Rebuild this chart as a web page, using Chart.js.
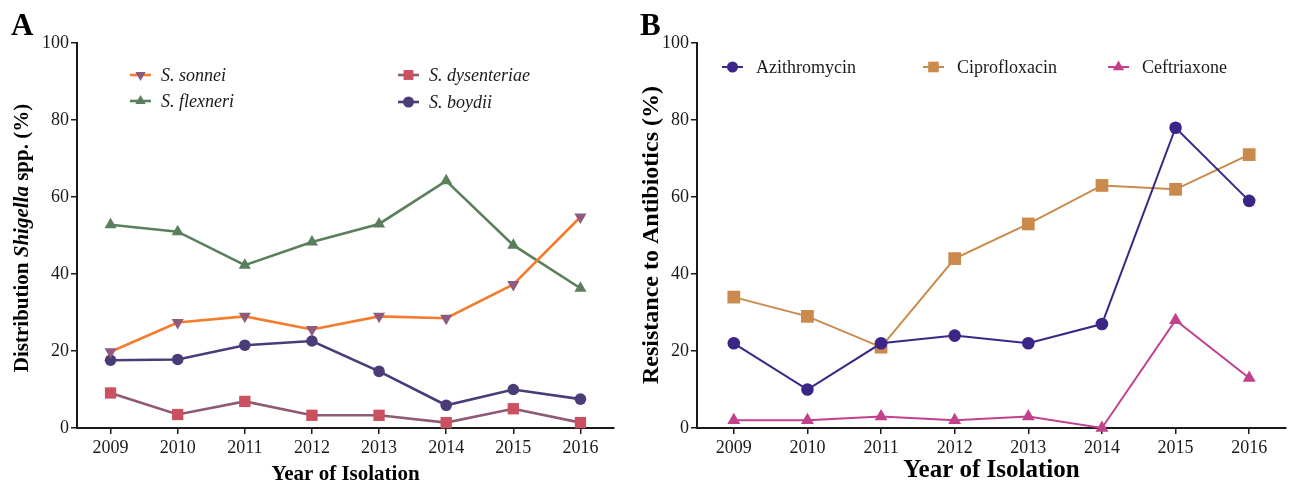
<!DOCTYPE html>
<html>
<head>
<meta charset="utf-8">
<script src="https://cdn.jsdelivr.net/npm/chart.js@4/dist/chart.umd.min.js"></script>
<style>
  html, body { margin: 0; padding: 0; background: #fff; }
  #wrap { position: relative; width: 1295px; height: 483px; overflow: hidden; }
  .panel { position: absolute; top: 0; height: 483px; }
  #pa { left: 0; width: 640px; }
  #pb { left: 630px; width: 665px; }
</style>
</head>
<body>
<div id="wrap">
  <div class="panel" id="pa"><canvas id="ca"></canvas></div>
  <div class="panel" id="pb"><canvas id="cb"></canvas></div>
</div>
<script>
// Years of isolation (shared category axis)
const years = ['2009', '2010', '2011', '2012', '2013', '2014', '2015', '2016'];
const yTicks = [0, 20, 40, 60, 80, 100];

// Panel A: distribution of Shigella species (%)
const sonnei      = [19.8, 27.4, 29.0, 25.6, 29.0, 28.5, 37.3, 54.8];
const flexneri    = [52.8, 51.0, 42.3, 48.3, 53.0, 64.2, 47.5, 36.3];
const dysenteriae = [9.1, 3.5, 6.9, 3.3, 3.3, 1.4, 5.0, 1.4];
const boydii      = [17.6, 17.8, 21.5, 22.6, 14.7, 5.9, 10.0, 7.5];

// Panel B: resistance to antibiotics (%)
const azithromycin  = [22, 10, 22, 24, 22, 27, 78, 59];
const ciprofloxacin = [34, 29, 21, 44, 53, 63, 62, 71];
const ceftriaxone   = [2, 2, 3, 2, 3, 0, 28, 13];

const SERIF = '"Liberation Serif", "DejaVu Serif", serif';
const INK = '#1a1a1a';

Chart.defaults.font.family = SERIF;
Chart.defaults.color = INK;

// Draws panel letter, rich axis titles and the in-plot legend
const decor = {
  id: 'decor',
  afterDraw(chart, args, o) {
    const ctx = chart.ctx;
    const area = chart.chartArea;
    const dpr = chart.currentDevicePixelRatio || 1;
    ctx.save();
    // panel letter
    ctx.fillStyle = '#000';
    ctx.font = 'bold 31px ' + SERIF;
    ctx.textBaseline = 'alphabetic';
    ctx.textAlign = 'left';
    ctx.fillText(o.letter, o.letterX, o.letterY);

    // x title
    ctx.font = 'bold ' + o.xTitleSize + 'px ' + SERIF;
    ctx.textAlign = 'center';
    ctx.textBaseline = 'alphabetic';
    ctx.fillText('Year of Isolation', (area.left + area.right) / 2, o.xTitleY);

    // y title (rotated, possibly mixed styles)
    const segs = o.yTitle;
    let total = 0;
    segs.forEach(s => { ctx.font = s.f; s.w = ctx.measureText(s.t).width; total += s.w; });
    ctx.translate(o.yTitleX, o.yTitleCY);
    ctx.rotate(-Math.PI / 2);
    ctx.textAlign = 'left';
    ctx.textBaseline = 'middle';
    let x = -total / 2;
    segs.forEach(s => { ctx.font = s.f; ctx.fillText(s.t, x, 0); x += s.w; });
    ctx.setTransform(dpr, 0, 0, dpr, 0, 0);

    // legend: line sample with marker, then label
    o.legend.forEach(e => {
      const ds = chart.data.datasets[e.ds];
      ctx.strokeStyle = ds.borderColor;
      ctx.lineWidth = ds.borderWidth;
      ctx.beginPath();
      ctx.moveTo(e.x, e.y);
      ctx.lineTo(e.x + o.lineLen, e.y);
      ctx.stroke();
      ctx.fillStyle = ds.pointBackgroundColor;
      ctx.strokeStyle = ds.pointBackgroundColor;
      Chart.helpers.drawPoint(ctx, {
        pointStyle: ds.pointStyle, rotation: ds.pointRotation || 0,
        radius: o.legendRadius[e.ds], borderWidth: 0
      }, e.x + o.lineLen / 2, e.y);
      ctx.fillStyle = INK;
      ctx.font = o.legendFont;
      ctx.textAlign = 'left';
      ctx.textBaseline = 'middle';
      ctx.fillText(ds.label, e.x + o.lineLen + o.textGap, e.y + 1);
    });
    ctx.restore();
  }
};

function scalesFor(yWidth) {
  return {
    x: {
      type: 'category',
      offset: true,
      afterFit: s => { s.height = 55; },
      grid: { display: true, drawOnChartArea: false, drawTicks: true, tickLength: 6, color: INK, lineWidth: 1.5 },
      border: { display: true, color: INK, width: 2 },
      ticks: { font: { size: 18 }, color: INK, padding: 3, maxRotation: 0, autoSkip: false }
    },
    y: {
      min: 0, max: 100,
      afterFit: s => { s.width = yWidth; },
      afterBuildTicks: s => { s.ticks = yTicks.map(v => ({ value: v })); },
      grid: { display: true, drawOnChartArea: false, drawTicks: true, tickLength: 6, color: INK, lineWidth: 1.5 },
      border: { display: true, color: INK, width: 2 },
      ticks: { font: { size: 18 }, color: INK, padding: 2 }
    }
  };
}

function series(label, data, line, point, style, radius, rot, width) {
  return {
    label, data,
    borderColor: line, backgroundColor: point,
    pointBackgroundColor: point, pointBorderColor: point,
    pointStyle: style, pointRadius: radius, pointRotation: rot || 0,
    pointBorderWidth: 0, borderWidth: width, tension: 0, clip: false
  };
}

new Chart(document.getElementById('ca'), {
  type: 'line',
  data: {
    labels: years,
    datasets: [
      series('S. sonnei', sonnei, '#F57C2E', '#8E5A7E', 'triangle', 7, 180, 2.6),
      series('S. flexneri', flexneri, '#5B7F5C', '#5B7F5C', 'triangle', 7, 0, 2.6),
      series('S. dysenteriae', dysenteriae, '#8E5A74', '#CB5160', 'rect', 8, 0, 2.6),
      series('S. boydii', boydii, '#4B3C78', '#4B3C78', 'circle', 5.8, 0, 2.6)
    ]
  },
  options: {
    responsive: true, maintainAspectRatio: false, animation: false,
    layout: { padding: { top: 43, right: 26, left: 0, bottom: 0 } },
    scales: scalesFor(77),
    plugins: {
      legend: { display: false }, tooltip: { enabled: false },
      decor: {
        letter: 'A', letterX: 11, letterY: 35,
        xTitleSize: 21, xTitleY: 480,
        yTitleX: 23, yTitleCY: 238,
        yTitle: [
          { t: 'Distribution ', f: 'bold 21px ' + SERIF },
          { t: 'Shigella', f: 'italic bold 21px ' + SERIF },
          { t: ' spp. (%)', f: 'bold 21px ' + SERIF }
        ],
        lineLen: 21, textGap: 10,
        legendFont: 'italic 18px ' + SERIF,
        legendRadius: [6, 6, 7, 5.5],
        legend: [
          { ds: 0, x: 130, y: 75 },
          { ds: 1, x: 130, y: 101 },
          { ds: 2, x: 398, y: 75 },
          { ds: 3, x: 398, y: 102 }
        ]
      }
    }
  },
  plugins: [decor]
});

new Chart(document.getElementById('cb'), {
  type: 'line',
  data: {
    labels: years,
    datasets: [
      series('Azithromycin', azithromycin, '#3B2688', '#3B2688', 'circle', 6.3, 0, 2),
      series('Ciprofloxacin', ciprofloxacin, '#C98A4B', '#C98A4B', 'rect', 9, 0, 2),
      series('Ceftriaxone', ceftriaxone, '#C2418C', '#C2418C', 'triangle', 7.5, 0, 2)
    ]
  },
  options: {
    responsive: true, maintainAspectRatio: false, animation: false,
    layout: { padding: { top: 43, right: 4, left: 0, bottom: 0 } },
    scales: scalesFor(67),
    plugins: {
      legend: { display: false }, tooltip: { enabled: false },
      decor: {
        letter: 'B', letterX: 10, letterY: 35,
        xTitleSize: 25, xTitleY: 477,
        yTitleX: 22, yTitleCY: 235,
        yTitle: [
          { t: 'Resistance to Antibiotics (%)', f: 'bold 24px ' + SERIF }
        ],
        lineLen: 21, textGap: 13,
        legendFont: '18px ' + SERIF,
        legendRadius: [5.5, 7.5, 6.5],
        legend: [
          { ds: 0, x: 92, y: 67 },
          { ds: 1, x: 293, y: 67 },
          { ds: 2, x: 478, y: 67 }
        ]
      }
    }
  },
  plugins: [decor]
});
</script>
</body>
</html>
